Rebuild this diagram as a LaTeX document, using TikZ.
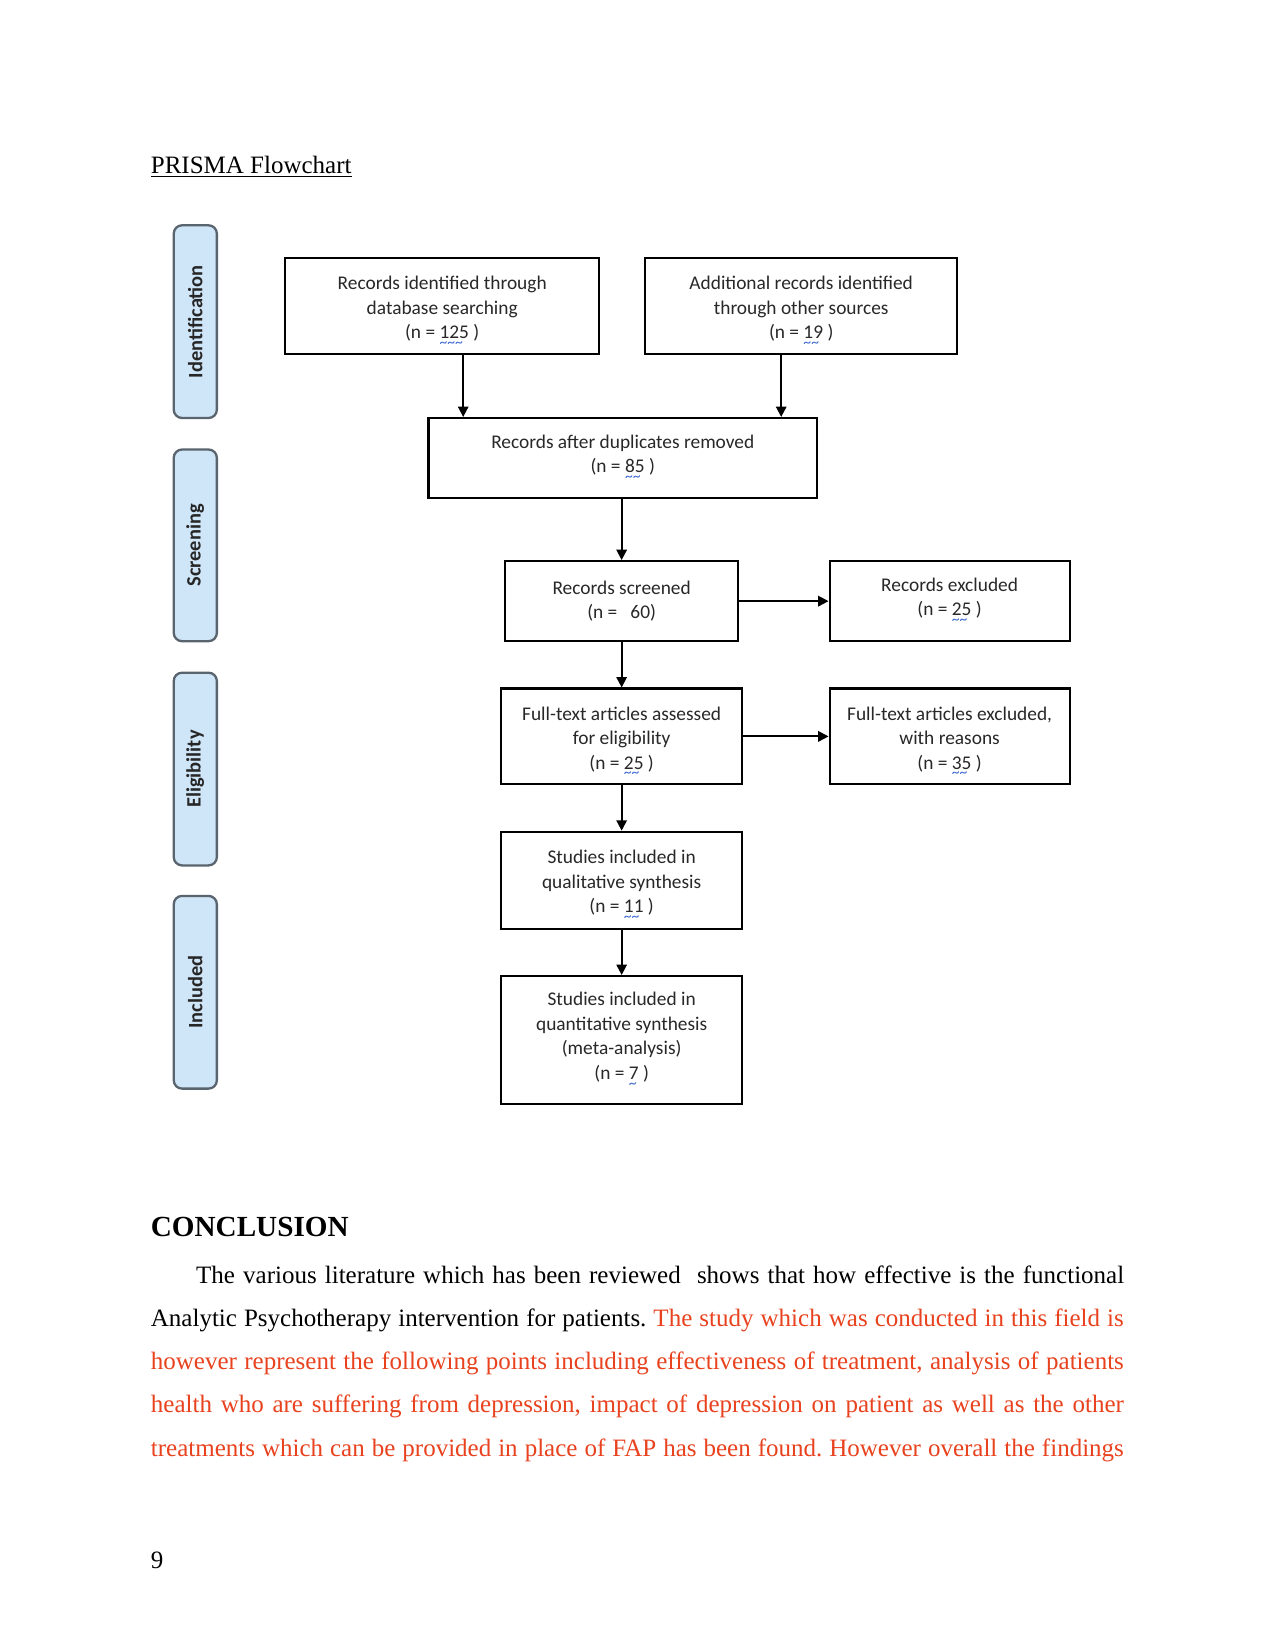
\documentclass[tikz,border=0pt]{standalone}
\usepackage{fontspec}
\setmainfont{Liberation Serif}
\newfontfamily\calib{Carlito}
\usetikzlibrary{arrows.meta,calc}
\definecolor{redtxt}{RGB}{232,66,30}
\definecolor{lblfill}{RGB}{207,229,248}
\definecolor{lbldraw}{RGB}{90,100,110}
\definecolor{wavec}{RGB}{60,105,210}
\definecolor{boxtxt}{RGB}{40,40,40}
\newcommand\wv[1]{\setbox0\hbox{#1}\rlap{\textcolor{wavec}{\raisebox{-4.1pt}{\hbox to \wd0{\leaders\hbox{\calib\fontsize{7.5}{7.5}\selectfont\char"7E}\hfill}}}}#1}
\newcommand\tl{\rule{0pt}{12pt}}
\frenchspacing
\begin{document}
\begin{tikzpicture}[x=0.48pt,y=-0.48pt,
  box/.style={draw,line width=1pt,font=\calib\fontsize{9.3}{11.8}\selectfont,text=boxtxt,align=center,inner sep=0pt},
  wh/.style 2 args={minimum width=#1*0.48pt,minimum height=#2*0.48pt},
  lbl/.style={draw=lbldraw,fill=lblfill,line width=1.1pt,rounded corners=4pt,inner sep=0pt,rotate=90,
    minimum height=20.7pt,font=\calib\bfseries\fontsize{9.8}{12}\selectfont,text=black!85},
  arr/.style={line width=0.9pt,-{Triangle[length=5pt,width=5pt]}},
  txt/.style={inner sep=0pt,anchor=base west,font=\fontsize{12}{14}\selectfont}]
\useasboundingbox (0,0) rectangle (1275,1651);
\fill[white] (0,0) rectangle (1275,1651);

% title
\node[txt] (title) at (150.5,173.7) {\underline{PRISMA Flowchart}};

% stage labels
\node[lbl,minimum width=192.7*0.48pt] (l1) at (195.3,321.65) {Identification};
\node[lbl,minimum width=191.7*0.48pt] (l2) at (195.3,545.35) {Screening};
\node[lbl,minimum width=192.7*0.48pt] (l3) at (195.3,769.05) {Eligibility};
\node[lbl,minimum width=192.7*0.48pt] (l4) at (195.3,992.25) {Included};

% boxes
\node[box,wh={313.7}{95.8}] (b1) at (442.2,305.8) {\tl Records identified through\\database searching\\(n = \wv{125} )};
\node[box,wh={311.6}{95.8}] (b2) at (801.2,305.8) {\tl Additional records identified\\through other sources\\(n = \wv{19} )};
\node[box,wh={388.5}{80}] (b3) at (622.75,458) {Records after duplicates removed\\(n = \wv{85} )};
\node[box,wh={232.7}{80.1}] (b4) at (621.65,601.15) {Records screened\\(n = \ \ 60)};
\node[box,wh={240}{80.1}] (b5) at (949.6,601.15) {Records excluded\\(n = \wv{25} )};
\node[box,wh={241.1}{95.8}] (b6) at (621.65,736.4) {\tl Full-text articles assessed\\for eligibility\\(n = \wv{25} )};
\node[box,wh={240}{95.8}] (b7) at (949.6,736.4) {\tl Full-text articles excluded,\\with reasons\\(n = \wv{35} )};
\node[box,wh={241.1}{96.9}] (b8) at (621.65,880.15) {\tl Studies included in\\qualitative synthesis\\(n = \wv{11} )};
\node[box,wh={241.1}{128.4}] (b9) at (621.65,1040.2) {Studies included in\\quantitative synthesis\\(meta-analysis)\\(n = \wv{7} )};

% connectors
\coordinate (c1) at (463.2,0);
\coordinate (c2) at (781.2,0);
\draw[arr] (b1.south -| c1) -- (b3.north -| c1);
\draw[arr] (b2.south -| c2) -- (b3.north -| c2);
\draw[arr] (b3.south -| b4.north) -- (b4.north);
\draw[arr] (b4.south) -- (b6.north);
\draw[arr] (b6.south) -- (b8.north);
\draw[arr] (b8.south) -- (b9.north);
\draw[arr] (b4.east) -- (b5.west);
\draw[arr] (b6.east) -- (b7.west);

% conclusion
\node[txt,font=\bfseries\fontsize{14}{16}\selectfont] (conc) at (150.5,1236) {CONCLUSION};
\node[txt] (p1) at (195.8,1283.4) {\makebox[445.4pt][s]{The various literature which has been reviewed\ \ shows that how effective is the functional}};
\node[txt] (p2) at (150.5,1326.5) {\makebox[467pt][s]{Analytic Psychotherapy intervention for patients. \textcolor{redtxt}{The study which was conducted in this field is}}};
\node[txt,text=redtxt] (p3) at (150.5,1369.7) {\makebox[467pt][s]{however represent the following points including effectiveness of treatment, analysis of patients}};
\node[txt,text=redtxt] (p4) at (150.5,1412.8) {\makebox[467pt][s]{health who are suffering from depression, impact of depression on patient as well as the other}};
\node[txt,text=redtxt] (p5) at (150.5,1456) {\makebox[467pt][s]{treatments which can be provided in place of FAP has been found. However overall the findings}};
\node[txt] (pg) at (150.5,1568) {9};
\end{tikzpicture}
\end{document}
